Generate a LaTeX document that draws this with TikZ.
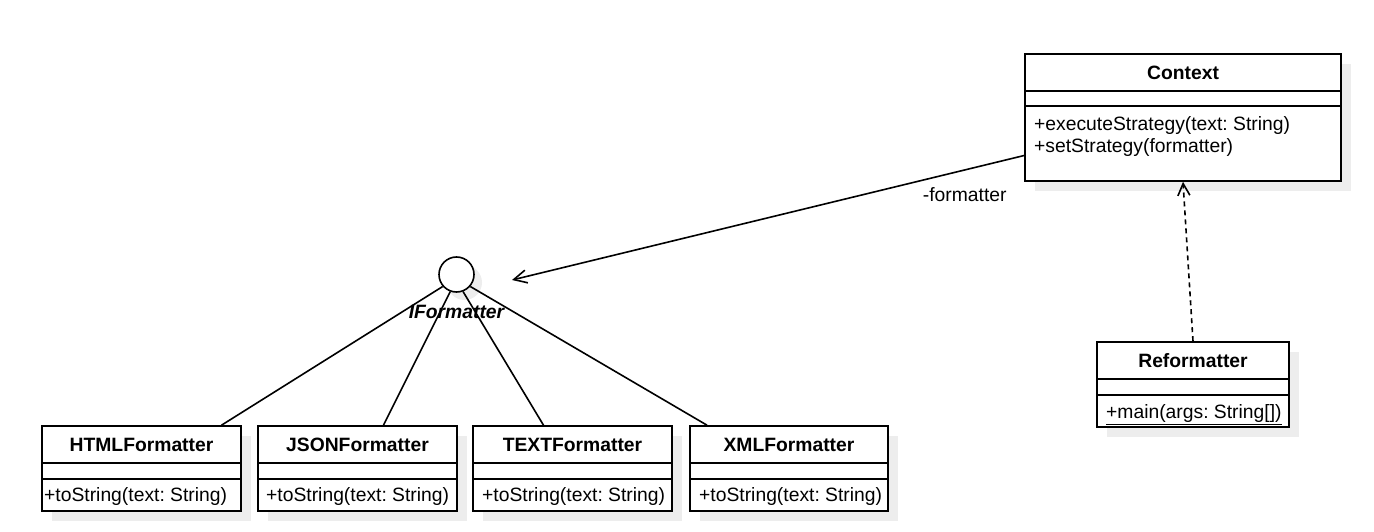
\documentclass[tikz,border=0pt]{standalone}
\usepackage{fontspec}
\setmainfont{Liberation Sans}
\frenchspacing
\usetikzlibrary{arrows.meta,fit,calc}
\newcommand\umlbox[8]{%
  \fill[shadowc] (#2+10,#3+10) rectangle (#4+10,#5+10);
  \path (#2,#3) coordinate (#1-nw) (#4,#5) coordinate (#1-se);
  \node[classbox, fit=(#1-nw)(#1-se)] (#1) {};
  \draw[boxline] (#2,#6) -- (#4,#6) (#2,#7) -- (#4,#7);
  \node[titletext, anchor=base] (#1-title) at ({(#2+#4)/2},{(#3+#6)/2+7.2}) {#8};
}
\begin{document}
\begin{tikzpicture}[x=1pt,y=-1pt,
  boxline/.style={line width=1.6pt},
  classbox/.style={draw, line width=1.6pt, fill=white, inner sep=0pt},
  shadowc/.style={fill=black!7},
  titletext/.style={font=\fontsize{19.3}{23}\selectfont\bfseries\frenchspacing, inner sep=0pt},
  membertext/.style={font=\fontsize{19.3}{23}\selectfont\frenchspacing, inner sep=0pt, anchor=base west},
  realize/.style={line width=1.6pt},
  assoc/.style={line width=1.6pt, -{Straight Barb[length=13pt,width=13pt,line width=1.6pt]}},
  dep/.style={line width=1.6pt, dash pattern=on 5pt off 4pt, -{Straight Barb[length=12pt,width=12pt,line width=1.6pt]}}
]
\useasboundingbox (0,0) rectangle (1374,532);

% Context
\umlbox{ctx}{1025}{54}{1341}{181}{91}{106}{Context}
\node[membertext] (ctx-m1) at (1034,131) {+executeStrategy(text: String)};
\node[membertext] (ctx-m2) at (1034,152.7) {+setStrategy(formatter)};

% Reformatter
\umlbox{rf}{1097}{342}{1289}{427}{379}{395}{Reformatter}
\node[membertext] (rf-m1) at (1106,418.3) {\underline{+main(args: String[])}};

% Formatters
\umlbox{html}{42}{426}{241}{511}{463}{479}{HTMLFormatter}
\node[membertext] (html-m1) at (44,501.7) {+toString(text: String)};
\umlbox{json}{258}{426}{457}{511}{463}{479}{JSONFormatter}
\node[membertext] (json-m1) at (266,501.7) {+toString(text: String)};
\umlbox{txt}{473}{426}{672}{511}{463}{479}{TEXTFormatter}
\node[membertext] (txt-m1) at (482,501.7) {+toString(text: String)};
\umlbox{xml}{690}{426}{888}{511}{463}{479}{XMLFormatter}
\node[membertext] (xml-m1) at (699,501.7) {+toString(text: String)};

% Interface lollipop
\fill[shadowc] (464.5,282.5) circle (17.5);
\node[draw, circle, line width=1.6pt, fill=white, minimum size=35pt, inner sep=0pt] (iface) at (456.5,274.5) {};
\node[font=\fontsize{19.3}{23}\selectfont\bfseries\itshape, inner sep=0pt, anchor=base] (iface-label) at (456.5,318.4) {IFormatter};

% Realization lines
\draw[realize] (iface.221) -- ([xshift=80pt]html.north);
\draw[realize] (iface.250) -- ([xshift=26pt]json.north);
\draw[realize] (iface.291) -- ([xshift=-29pt]txt.north);
\draw[realize] (iface.319) -- ([xshift=-82pt]xml.north);

% Association
\draw[assoc] ([yshift=-38pt]ctx.west) -- ($(iface.center)+(55.5,5.5)$);
\node[font=\fontsize{19.3}{23}\selectfont, inner sep=0pt, anchor=base] (assoc-label) at (964.7,201) {-formatter};

% Dependency
\draw[dep] (rf.north) -- (ctx.south);
\end{tikzpicture}
\end{document}
